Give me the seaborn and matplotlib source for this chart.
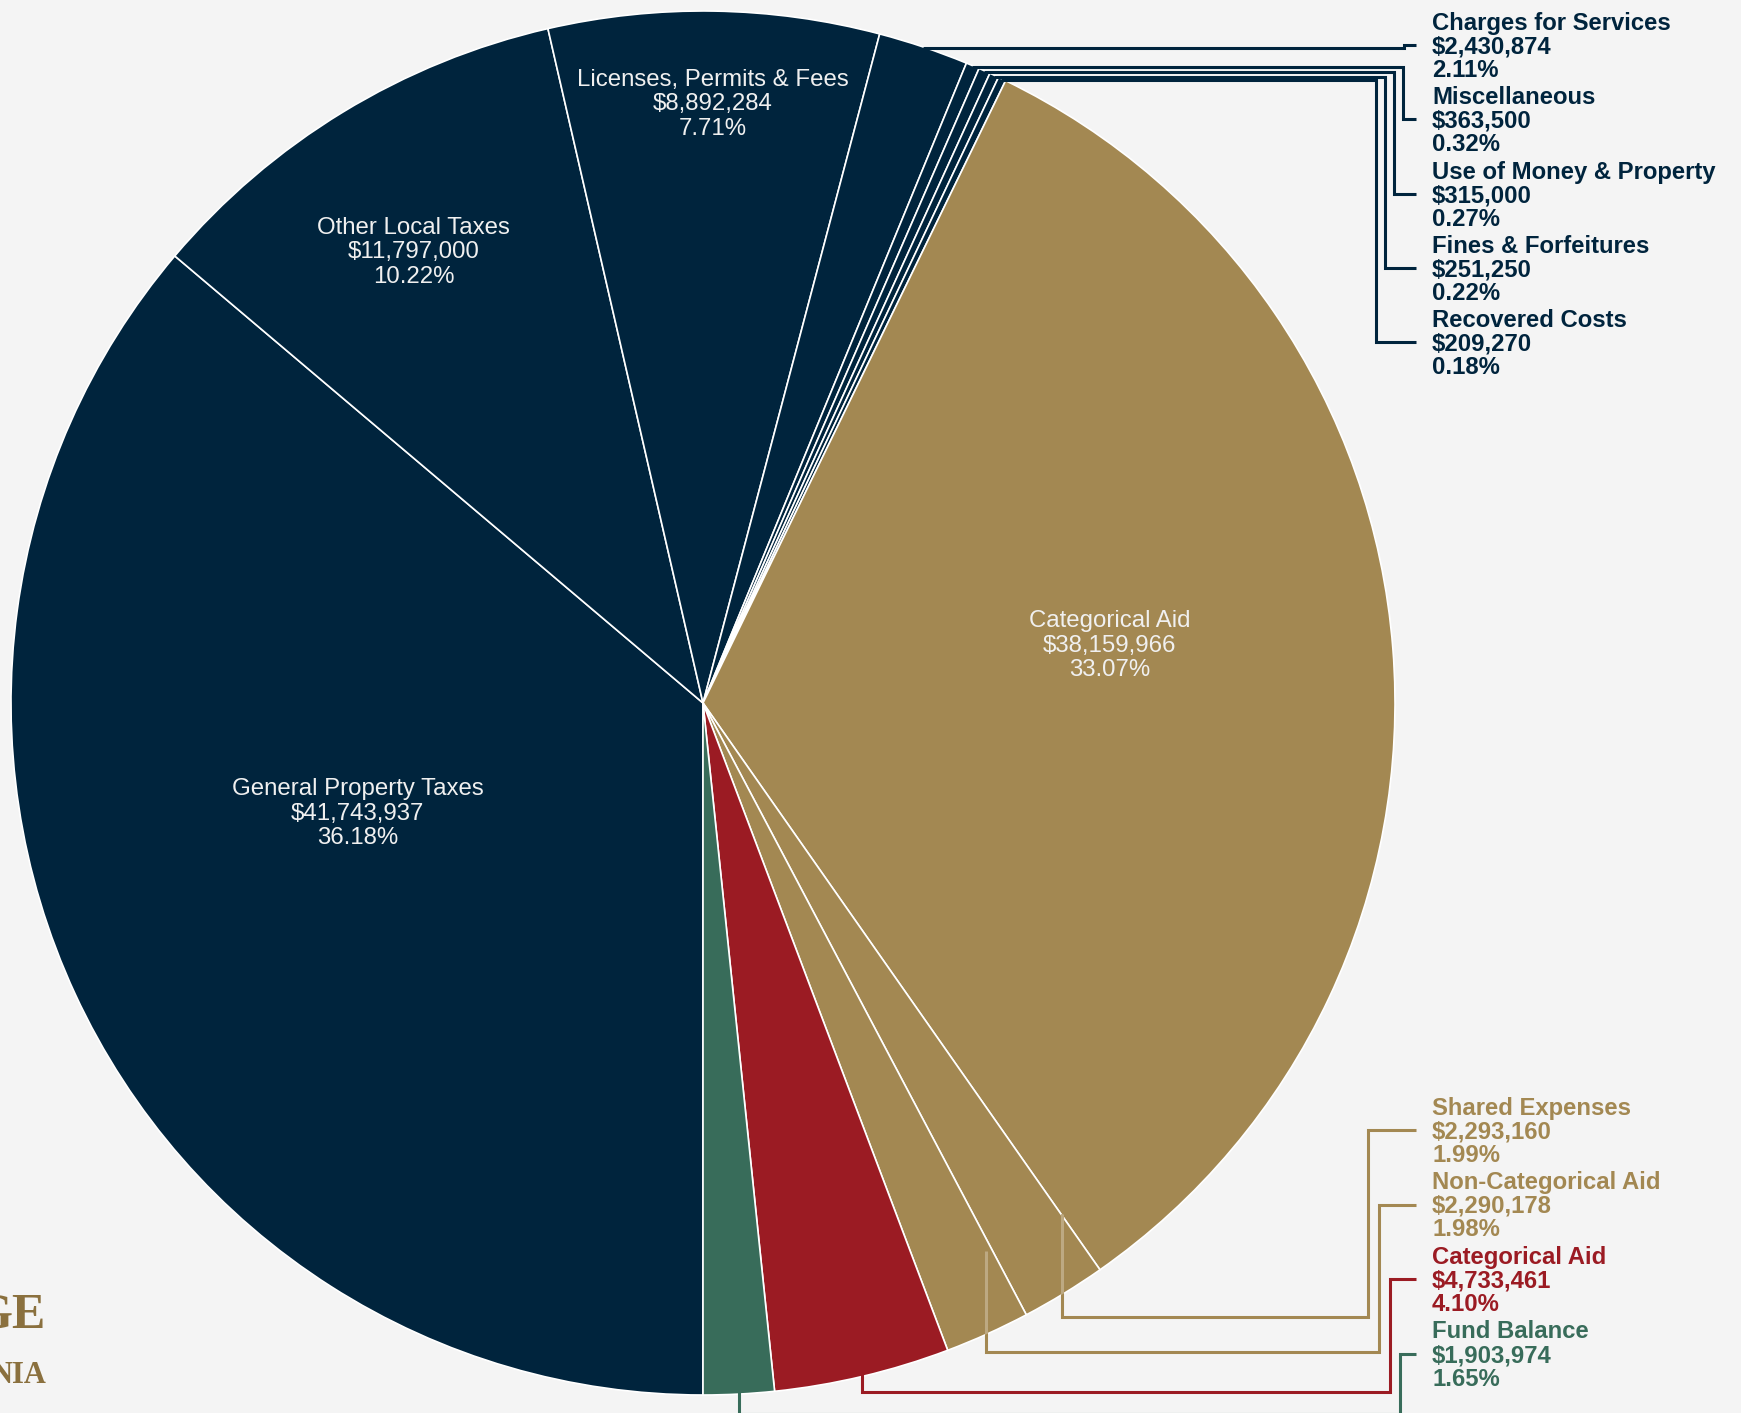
import numpy as np
import pandas as pd
import seaborn as sns
import matplotlib
matplotlib.use("Agg")
import matplotlib.pyplot as plt
from matplotlib.patches import Circle
from matplotlib.colors import to_rgb

# ---------------- data ----------------
categories = ["General Property Taxes", "Other Local Taxes", "Licenses, Permits & Fees",
              "Charges for Services", "Miscellaneous", "Use of Money & Property",
              "Fines & Forfeitures", "Recovered Costs", "Categorical Aid",
              "Shared Expenses", "Non-Categorical Aid", "Categorical Aid", "Fund Balance"]
amounts = [41743937, 11797000, 8892284, 2430874, 363500, 315000, 251250, 209270,
           38159966, 2293160, 2290178, 4733461, 1903974]
groups = ["Local"] * 8 + ["State"] * 3 + ["Federal", "Other"]

group_colors = {"Local": "#00243D", "State": "#A38852", "Federal": "#9B1B23", "Other": "#386C5A"}
BG = "#F4F4F4"

df = pd.DataFrame({"category": categories, "amount": amounts, "group": groups})
df["pct"] = df["amount"] / df["amount"].sum() * 100

sns.set_theme(style="white", rc={"figure.facecolor": BG, "axes.facecolor": BG})
plt.rcParams["font.family"] = ["Liberation Sans", "DejaVu Sans"]

W, H = 1741, 1413
fig = plt.figure(figsize=(W / 100, H / 100), dpi=100)
fig.patch.set_facecolor(BG)
ax = fig.add_axes([0, 0, 1, 1])
ax.set_facecolor(BG)

CX, CY, R = 703, 703, 692          # pie centre / radius in pixel units (y down)


def P(x, y):
    return x, H - y


palette = sns.color_palette([group_colors[g] for g in df["group"]])
wedges, _ = ax.pie(df["amount"], colors=palette, startangle=-90, counterclock=False,
                   center=P(CX, CY), radius=R, frame=False,
                   wedgeprops=dict(edgecolor="white", linewidth=1.2))
ax.set_xlim(0, W)
ax.set_ylim(0, H)
ax.set_aspect("equal")
ax.axis("off")


def mid_angle(w):
    return np.deg2rad((w.theta1 + w.theta2) / 2)


def polar_px(phi, r):
    return CX + r * np.cos(phi), CY - r * np.sin(phi)


def fmt(i):
    return [df.category[i], f"${df.amount[i]:,}", f"{df.pct[i]:.2f}%"]


# ---------------- inside labels ----------------
inside = {0: (0.523, -7.5), 1: (0.777, 1.2), 2: (0.869, 0.0), 8: (0.594, 3.8)}
for i, (rf, dphi) in inside.items():
    phi = mid_angle(wedges[i]) + np.deg2rad(dphi)
    x, y = polar_px(phi, rf * R)
    for k, s in enumerate(fmt(i)):
        ax.text(*P(x, y + (k - 1) * 24.5 + 8.5), s, ha="center", va="baseline",
                fontsize=17.3, color="#F0F0F0", zorder=6)


# ---------------- outside labels with leaders ----------------
def lighten(c, f=0.28):
    r, g, b = to_rgb(c)
    return (r + (1 - r) * f, g + (1 - g) * f, b + (1 - b) * f)


LW = 2.2


def leader(pts, color, overlay=False):
    xs = [p[0] for p in pts]
    ys = [H - p[1] for p in pts]
    ax.plot(xs, ys, color=color, lw=LW, solid_joinstyle="miter",
            solid_capstyle="butt", zorder=3)
    if overlay:
        ln, = ax.plot(xs, ys, color=lighten(color), lw=LW, solid_joinstyle="miter",
                      solid_capstyle="butt", zorder=4)
        ln.set_clip_path(Circle(P(CX, CY), R, transform=ax.transData))


LINE_END, TEXT_X, LINE_H = 1416, 1432, 23.5

top_idx = [3, 4, 5, 6, 7]
top_label_y = [45 + 74.25 * k for k in range(5)]
top_vx = [1404, 1403, 1394, 1385, 1376]

bot_idx = [9, 10, 11, 12]
bot_label_y = [1130 + 74.5 * k for k in range(4)]
bot_vx = [1368, 1379, 1390, 1400]
bot_hy = [1317, 1352, 1392, 1414]
bot_ext = [77, 80, 0, 0]


def draw_label(i, ly):
    col = group_colors[df.group[i]]
    for j, s in enumerate(fmt(i)):
        ax.text(TEXT_X, H - (ly + (j - 1) * LINE_H + 8.5), s, ha="left", va="baseline",
                fontsize=17.2, fontweight="bold", color=col, zorder=6)


for k, i in enumerate(top_idx):
    ax0, ay0 = polar_px(mid_angle(wedges[i]), R * 0.998)
    col = group_colors[df.group[i]]
    leader([(ax0, ay0), (top_vx[k], ay0), (top_vx[k], top_label_y[k]),
            (LINE_END, top_label_y[k])], col)
    draw_label(i, top_label_y[k])

for k, i in enumerate(bot_idx):
    ax0, ay0 = polar_px(mid_angle(wedges[i]), R * 0.995)
    col = group_colors[df.group[i]]
    leader([(ax0, ay0 - bot_ext[k]), (ax0, bot_hy[k]), (bot_vx[k], bot_hy[k]),
            (bot_vx[k], bot_label_y[k]), (LINE_END, bot_label_y[k])], col,
           overlay=bot_ext[k] > 0)
    draw_label(i, bot_label_y[k])

# ---------------- partially visible logo text (cut off at the left edge, as in the reference) ----------------
ax.text(*P(46, 1328), "GE", ha="right", va="baseline", fontsize=36, fontweight="bold",
        family=["Liberation Serif", "DejaVu Serif"], color="#8A703E", zorder=2)
ax.text(*P(46, 1383), "NIA", ha="right", va="baseline", fontsize=22, fontweight="bold",
        family=["Liberation Serif", "DejaVu Serif"], color="#8A703E", zorder=2)

fig.savefig("out.png", dpi=100, facecolor=BG)
